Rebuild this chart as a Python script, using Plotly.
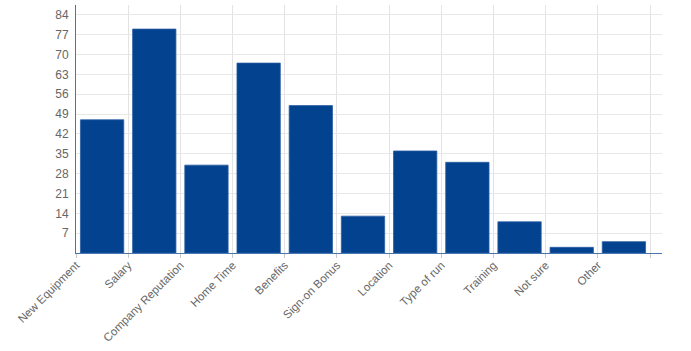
import plotly.graph_objects as go

categories = ["New Equipment", "Salary", "Company Reputation", "Home Time", "Benefits",
              "Sign-on Bonus", "Location", "Type of run", "Training", "Not sure", "Other"]
values = [47, 79, 31, 67, 52, 13, 36, 32, 11, 2, 4]
y_ticks = [7, 14, 21, 28, 35, 42, 49, 56, 63, 70, 77, 84]

fig = go.Figure(go.Bar(
    x=categories, y=values,
    marker=dict(color="#03428f", line=dict(color="#2a5ea3", width=0.8)),
))

fig.update_layout(
    width=691, height=351,
    margin=dict(l=76, r=29, t=5, b=98),
    paper_bgcolor="white", plot_bgcolor="white",
    bargap=0.17,
    showlegend=False,
    font=dict(family="Liberation Sans, Arial, sans-serif", size=12, color="#666666"),
)
fig.update_xaxes(
    type="category",
    range=[-0.5, 10.73],
    tickson="boundaries",
    showgrid=True, gridcolor="#e3e3e3", gridwidth=1,
    showline=True, linecolor="#4a76b0", linewidth=1,
    ticks="outside", ticklen=4, tickcolor="#c8c8c8",
    tickangle=-45,
    ticklabelshift=-26,
    tickfont=dict(size=11.5, color="#666666"),
)
fig.update_yaxes(
    range=[0, 87.5],
    tickvals=y_ticks,
    showgrid=True, gridcolor="#e8e8e8", gridwidth=1,
    showline=True, linecolor="#4a76b0", linewidth=1,
    zeroline=False,
    ticks="", ticklabelstandoff=4,
    tickfont=dict(size=12, color="#666666"),
)

fig.write_html("out.html")
